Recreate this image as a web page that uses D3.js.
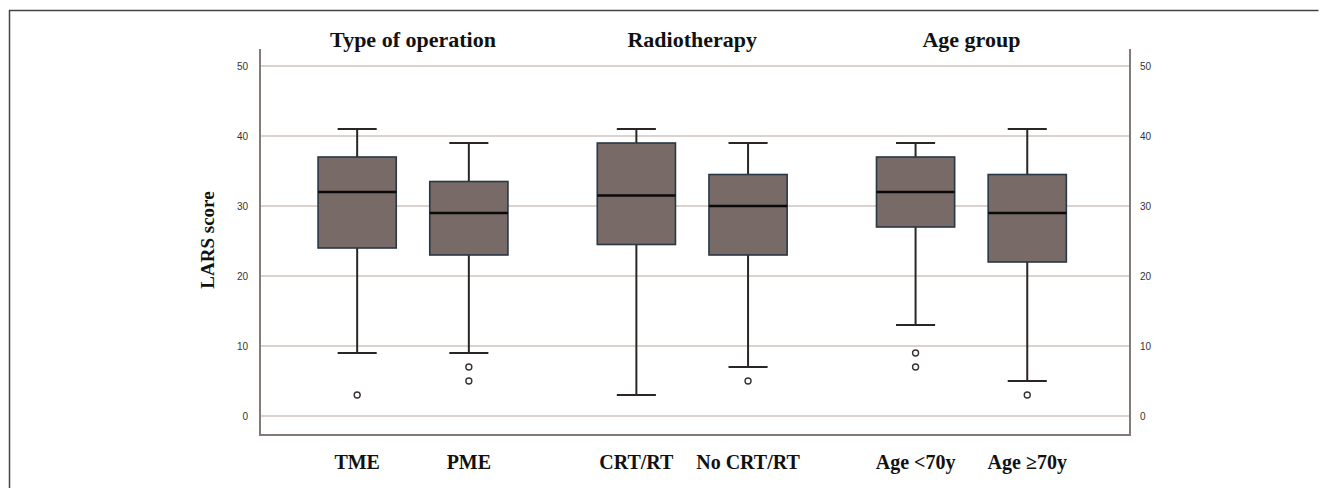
<!DOCTYPE html>
<html>
<head>
<meta charset="utf-8">
<script src="https://cdn.jsdelivr.net/npm/d3@7"></script>
<style>
  html, body { margin: 0; padding: 0; background: #fff; }
  svg { display: block; }
</style>
</head>
<body>
<svg id="chart" width="1328" height="488"></svg>
<script>
// ---- data ----
const categories = ["TME", "PME", "CRT/RT", "No CRT/RT", "Age <70y", "Age \u226570y"];
const groupOf = [0, 0, 1, 1, 2, 2];
const groupTitles = ["Type of operation", "Radiotherapy", "Age group"];
const whiskerLow = [9, 9, 3, 7, 13, 5];
const q1 = [24, 23, 24.5, 23, 27, 22];
const median = [32, 29, 31.5, 30, 32, 29];
const q3 = [37, 33.5, 39, 34.5, 37, 34.5];
const whiskerHigh = [41, 39, 41, 39, 39, 41];
const outliers = [[3], [7, 5], [], [5], [9, 7], [3]];
const yTicks = [0, 10, 20, 30, 40, 50];
const yTitle = "LARS score";

// ---- layout ----
const svg = d3.select("#chart");
const plotL = 260, plotR = 1130, plotT = 49, plotB = 435;

const pos = categories.map((c, i) => i + groupOf[i] * 0.5);
const x = d3.scaleLinear().domain([-0.87, 6.92]).range([plotL, plotR]);
const y = d3.scaleLinear().domain([0, 50]).range([416, 66]);
const unit = x(1) - x(0);
const boxW = unit * 0.70;
const capW = boxW * 0.5;

// outer frame (top + left)
svg.append("path")
  .attr("d", "M9.5,488 L9.5,10.5 L1318.5,10.5")
  .attr("fill", "none").attr("stroke", "#444").attr("stroke-width", 1.5);

// gridlines
svg.append("g").selectAll("line").data(yTicks).join("line")
  .attr("x1", plotL).attr("x2", plotR)
  .attr("y1", d => y(d)).attr("y2", d => y(d))
  .attr("stroke", "#d9d2cf").attr("stroke-width", 2);

// axes via d3 axis
const axL = svg.append("g").attr("transform", `translate(${plotL},0)`)
  .call(d3.axisLeft(y).tickValues(yTicks).tickSize(0).tickPadding(12));
const axR = svg.append("g").attr("transform", `translate(${plotR},0)`)
  .call(d3.axisRight(y).tickValues(yTicks).tickSize(0).tickPadding(10));
[axL, axR].forEach(a => {
  a.select(".domain").remove();
  a.selectAll("text")
    .attr("font-family", "Liberation Sans, Arial, sans-serif")
    .attr("font-size", 10).attr("fill", "#333");
});

// frame lines
const frame = svg.append("g").attr("stroke", "#857a78").attr("stroke-width", 2).attr("fill", "none");
frame.append("line").attr("x1", plotL).attr("x2", plotL).attr("y1", plotT).attr("y2", plotB);
frame.append("line").attr("x1", plotR).attr("x2", plotR).attr("y1", plotT).attr("y2", plotB);
frame.append("line").attr("x1", plotL - 1).attr("x2", plotR + 1).attr("y1", plotB).attr("y2", plotB);

// boxes
const data = categories.map((c, i) => ({
  c, p: pos[i], lo: whiskerLow[i], q1: q1[i], med: median[i], q3: q3[i], hi: whiskerHigh[i], out: outliers[i]
}));
const g = svg.append("g");
const b = g.selectAll("g.box").data(data).join("g").attr("class", "box");

// whiskers
b.append("line").attr("x1", d => x(d.p)).attr("x2", d => x(d.p))
  .attr("y1", d => y(d.q3)).attr("y2", d => y(d.hi))
  .attr("stroke", "#2b2626").attr("stroke-width", 2);
b.append("line").attr("x1", d => x(d.p)).attr("x2", d => x(d.p))
  .attr("y1", d => y(d.q1)).attr("y2", d => y(d.lo))
  .attr("stroke", "#2b2626").attr("stroke-width", 2);
b.append("line").attr("x1", d => x(d.p) - capW / 2).attr("x2", d => x(d.p) + capW / 2)
  .attr("y1", d => y(d.hi)).attr("y2", d => y(d.hi))
  .attr("stroke", "#2b2626").attr("stroke-width", 2);
b.append("line").attr("x1", d => x(d.p) - capW / 2).attr("x2", d => x(d.p) + capW / 2)
  .attr("y1", d => y(d.lo)).attr("y2", d => y(d.lo))
  .attr("stroke", "#2b2626").attr("stroke-width", 2);

// box rect
b.append("rect")
  .attr("x", d => x(d.p) - boxW / 2).attr("width", boxW)
  .attr("y", d => y(d.q3)).attr("height", d => y(d.q1) - y(d.q3))
  .attr("fill", "#786a66").attr("stroke", "#283845").attr("stroke-width", 1.6);

// median
b.append("line").attr("x1", d => x(d.p) - boxW / 2).attr("x2", d => x(d.p) + boxW / 2)
  .attr("y1", d => y(d.med)).attr("y2", d => y(d.med))
  .attr("stroke", "#0a0a0a").attr("stroke-width", 2.6);

// outliers
b.selectAll("circle").data(d => d.out.map(v => ({ p: d.p, v }))).join("circle")
  .attr("cx", d => x(d.p)).attr("cy", d => y(d.v)).attr("r", 3)
  .attr("fill", "#fff").attr("stroke", "#3a3333").attr("stroke-width", 1.4);

// category labels
svg.append("g").selectAll("text").data(data).join("text")
  .attr("x", d => x(d.p)).attr("y", 469)
  .attr("text-anchor", "middle")
  .attr("font-family", "Liberation Serif, 'Times New Roman', serif")
  .attr("font-weight", "bold").attr("font-size", 20).attr("fill", "#111")
  .text(d => d.c);

// group titles
svg.append("g").selectAll("text").data(groupTitles).join("text")
  .attr("x", (t, gi) => {
    const ps = pos.filter((p, i) => groupOf[i] === gi);
    return x(d3.mean(ps));
  })
  .attr("y", 47)
  .attr("text-anchor", "middle")
  .attr("font-family", "Liberation Serif, 'Times New Roman', serif")
  .attr("font-weight", "bold").attr("font-size", 22).attr("fill", "#111")
  .text(t => t);

// y title
svg.append("text")
  .attr("transform", `translate(214,240) rotate(-90)`)
  .attr("text-anchor", "middle")
  .attr("font-family", "Liberation Serif, 'Times New Roman', serif")
  .attr("font-weight", "bold").attr("font-size", 19).attr("fill", "#111")
  .text(yTitle);
</script>
</body>
</html>
